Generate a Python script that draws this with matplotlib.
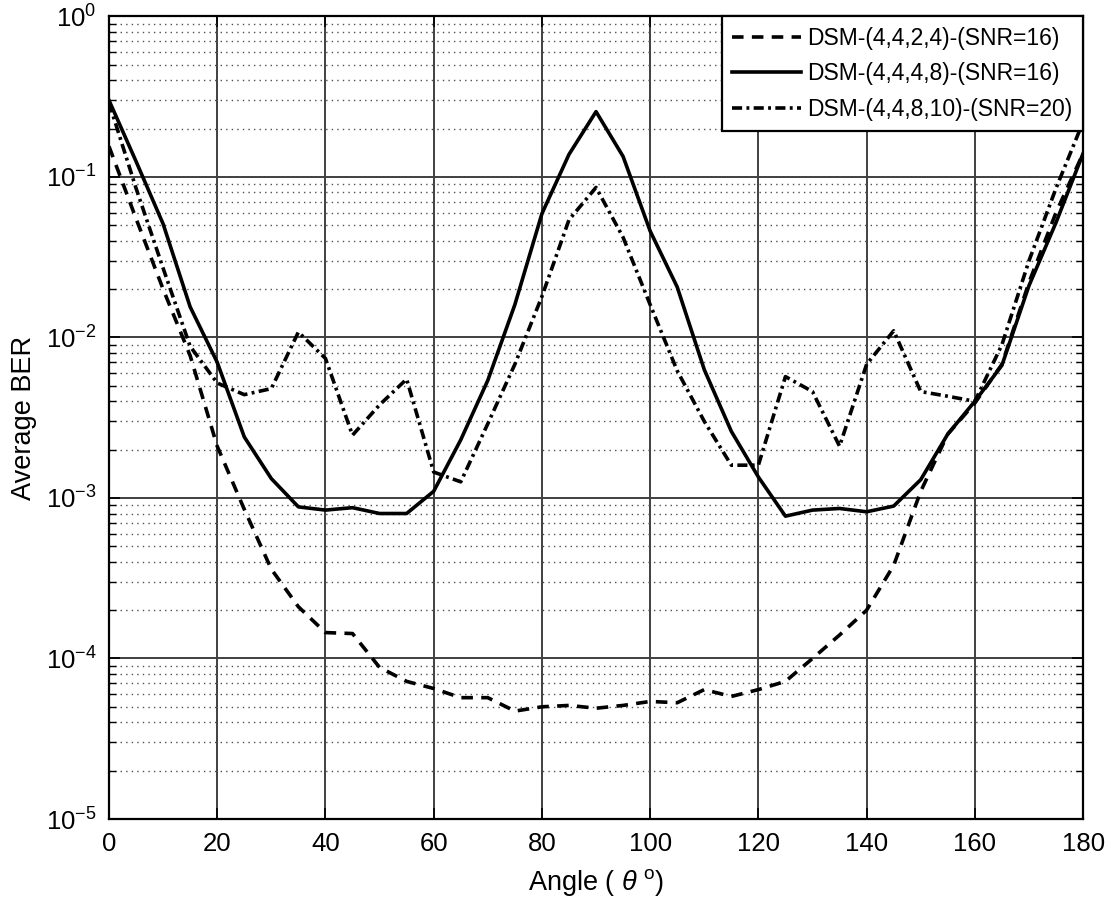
import matplotlib
matplotlib.use('Agg')
import matplotlib.pyplot as plt
from matplotlib.ticker import LogLocator, NullFormatter, MultipleLocator

plt.rcParams['font.family'] = ['Liberation Sans', 'DejaVu Sans']
plt.rcParams['mathtext.fontset'] = 'custom'
plt.rcParams['mathtext.rm'] = 'Liberation Sans'
plt.rcParams['mathtext.it'] = 'Liberation Sans:italic'

# angle in degrees
angle = list(range(0, 181, 5))

# DSM-(4,4,2,4)-(SNR=16)
ber_a = [0.155, 0.055, 0.02, 0.0077, 0.0021, 0.00085, 0.00036, 0.00021, 0.000145,
         0.000143, 0.000088, 0.000072, 0.000065, 0.000057, 0.000057, 0.000047,
         0.00005, 0.000051, 0.000049, 0.000051, 0.000054, 0.000053, 0.000064,
         0.000058, 0.000064, 0.000072, 0.0001, 0.00014, 0.0002, 0.00038, 0.0011,
         0.0025, 0.0039, 0.0068, 0.022, 0.06, 0.14]

# DSM-(4,4,4,8)-(SNR=16)
ber_b = [0.30, 0.125, 0.051, 0.0155, 0.007, 0.0024, 0.00132, 0.00088, 0.00084,
         0.00087, 0.0008, 0.0008, 0.0011, 0.0023, 0.0054, 0.016, 0.059, 0.138,
         0.255, 0.134, 0.046, 0.0206, 0.0063, 0.0026, 0.00135, 0.00077, 0.00084,
         0.00086, 0.00082, 0.00089, 0.0013, 0.0025, 0.004, 0.0067, 0.021, 0.052,
         0.14]

# DSM-(4,4,8,10)-(SNR=20)
ber_c = [0.29, 0.085, 0.027, 0.0088, 0.0052, 0.0044, 0.0048, 0.0108, 0.0074,
         0.00246, 0.0038, 0.0055, 0.00145, 0.00126, 0.0029, 0.0068, 0.018, 0.054,
         0.086, 0.042, 0.016, 0.0062, 0.003, 0.0016, 0.0016, 0.0057, 0.0046,
         0.0021, 0.0068, 0.011, 0.0046, 0.0043, 0.004, 0.009, 0.03, 0.085, 0.22]

labels = ['DSM-(4,4,2,4)-(SNR=16)', 'DSM-(4,4,4,8)-(SNR=16)', 'DSM-(4,4,8,10)-(SNR=20)']

fig = plt.figure(figsize=(11.12, 9.09), dpi=100)
ax = fig.add_axes([0.098, 0.099, 0.876, 0.883])

ax.semilogy(angle, ber_a, color='black', lw=2.6, linestyle=(0, (3.2, 2.3)), label=labels[0])
ax.semilogy(angle, ber_b, color='black', lw=2.6, linestyle='-', label=labels[1])
ax.semilogy(angle, ber_c, color='black', lw=2.6, linestyle=(0, (2.8, 1.2, 0.8, 1.2)), label=labels[2])

ax.set_xlim(0, 180)
ax.set_ylim(1e-5, 1)
ax.xaxis.set_major_locator(MultipleLocator(20))
ax.yaxis.set_major_locator(LogLocator(base=10, numticks=10))
ax.yaxis.set_minor_locator(LogLocator(base=10, subs=range(2, 10), numticks=20))
ax.yaxis.set_minor_formatter(NullFormatter())

ax.grid(True, which='major', color='#404040', lw=1.4, linestyle='-')
ax.grid(True, which='minor', axis='y', color='#505050', lw=1.0, linestyle=(0, (1, 3)))

ax.tick_params(which='both', direction='in', top=True, right=True, labelsize=18.5)
ax.tick_params(which='major', length=8, width=1.2, pad=9)
ax.tick_params(which='minor', length=5, width=1.0)
for s in ax.spines.values():
    s.set_linewidth(1.6)

ax.set_xlabel(r'Angle ( $\mathit{\theta}^{\ \mathrm{o}}$)', fontsize=19.5, labelpad=8)
ax.set_ylabel('Average BER', fontsize=19.5, labelpad=6)

leg = ax.legend(loc='upper right', fontsize=16.5, fancybox=False, framealpha=1,
                edgecolor='black', borderaxespad=0, handlelength=3.0,
                handletextpad=0.3, borderpad=0.45, labelspacing=0.55)
leg.get_frame().set_linewidth(1.6)

fig.savefig('out.png', dpi=100)
